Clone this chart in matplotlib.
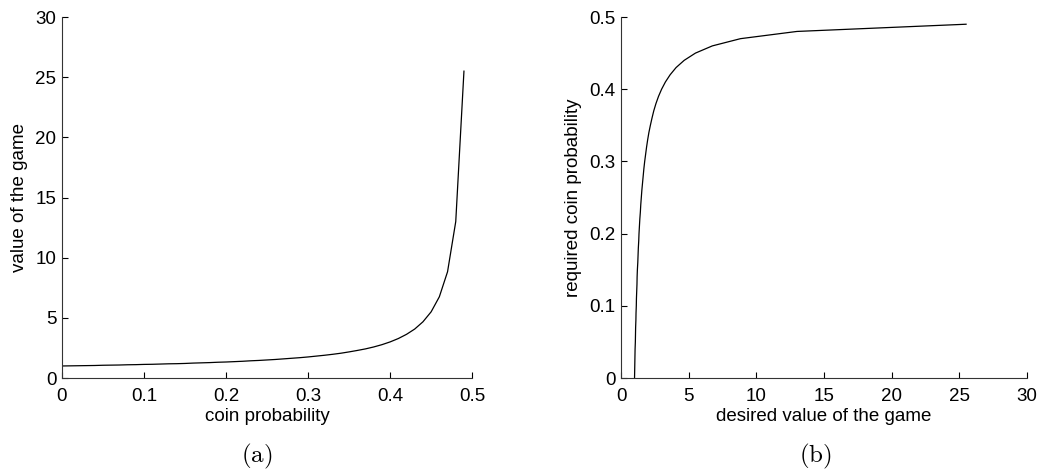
import matplotlib
matplotlib.use("Agg")
import matplotlib.pyplot as plt

# coin probability and the value of the game
coin_prob = [0.00, 0.01, 0.02, 0.03, 0.04, 0.05, 0.06, 0.07, 0.08, 0.09,
             0.10, 0.11, 0.12, 0.13, 0.14, 0.15, 0.16, 0.17, 0.18, 0.19,
             0.20, 0.21, 0.22, 0.23, 0.24, 0.25, 0.26, 0.27, 0.28, 0.29,
             0.30, 0.31, 0.32, 0.33, 0.34, 0.35, 0.36, 0.37, 0.38, 0.39,
             0.40, 0.41, 0.42, 0.43, 0.44, 0.45, 0.46, 0.47, 0.48, 0.49]
game_value = [1.00, 1.01, 1.02, 1.03, 1.04, 1.06, 1.07, 1.08, 1.10, 1.11,
              1.13, 1.14, 1.16, 1.18, 1.19, 1.21, 1.24, 1.26, 1.28, 1.31,
              1.33, 1.36, 1.39, 1.43, 1.46, 1.50, 1.54, 1.59, 1.64, 1.69,
              1.75, 1.82, 1.89, 1.97, 2.06, 2.17, 2.29, 2.42, 2.58, 2.77,
              3.00, 3.28, 3.63, 4.07, 4.67, 5.50, 6.75, 8.83, 13.00, 25.50]

x_ticks_a = [0, 0.1, 0.2, 0.3, 0.4, 0.5]
x_labels_a = ["0", "0.1", "0.2", "0.3", "0.4", "0.5"]
y_ticks_a = [0, 5, 10, 15, 20, 25, 30]
x_ticks_b = [0, 5, 10, 15, 20, 25, 30]
y_ticks_b = [0, 0.1, 0.2, 0.3, 0.4, 0.5]
y_labels_b = ["0", "0.1", "0.2", "0.3", "0.4", "0.5"]

plt.rcParams['font.family'] = ['Liberation Sans', 'DejaVu Sans']
plt.rcParams['mathtext.fontset'] = 'cm'

fig = plt.figure(figsize=(10.49, 4.75), dpi=100)
ax1 = fig.add_axes([0.0591, 0.2042, 0.391, 0.76])
ax2 = fig.add_axes([0.592, 0.2042, 0.387, 0.76])


def style(ax):
    for s in ["top", "right"]:
        ax.spines[s].set_visible(False)
    for s in ["left", "bottom"]:
        ax.spines[s].set_linewidth(0.8)
        ax.spines[s].set_color("#333333")
    ax.tick_params(direction="in", length=4, width=0.8, labelsize=13.5, colors="black")
    ax.tick_params(axis="x", pad=7)
    ax.tick_params(axis="y", pad=4)


ax1.plot(coin_prob, game_value, color="black", lw=0.9)
ax1.set_xlim(0, 0.5)
ax1.set_ylim(0, 30)
ax1.set_xticks(x_ticks_a)
ax1.set_xticklabels(x_labels_a)
ax1.set_yticks(y_ticks_a)
ax1.set_xlabel("coin probability", fontsize=13.5, labelpad=2)
ax1.set_ylabel("value of the game", fontsize=13.5, labelpad=5)
style(ax1)

ax2.plot(game_value, coin_prob, color="black", lw=0.9)
ax2.set_xlim(0, 30)
ax2.set_ylim(0, 0.5)
ax2.set_xticks(x_ticks_b)
ax2.set_yticks(y_ticks_b)
ax2.set_yticklabels(y_labels_b)
ax2.set_xlabel("desired value of the game", fontsize=13.5, labelpad=2)
ax2.set_ylabel("required coin probability", fontsize=13.5, labelpad=5)
style(ax2)

fig.text(0.245, 0.04, r"$\mathrm{(a)}$", ha="center", va="center", fontsize=18)
fig.text(0.777, 0.04, r"$\mathrm{(b)}$", ha="center", va="center", fontsize=18)

fig.savefig("out.png", dpi=100)
